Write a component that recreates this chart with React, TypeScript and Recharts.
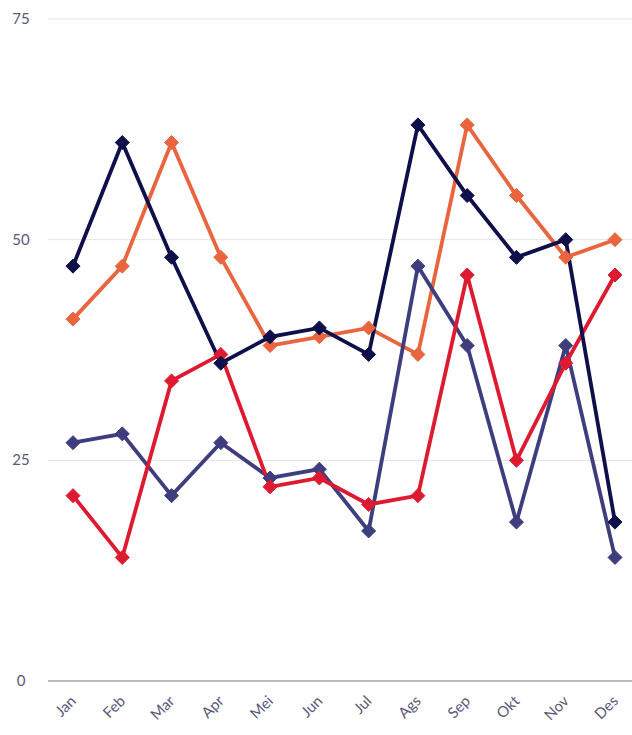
import React from "react";
import { LineChart, Line, XAxis, YAxis, CartesianGrid, ReferenceLine } from "recharts";

const months = ["Jan", "Feb", "Mar", "Apr", "Mei", "Jun", "Jul", "Ags", "Sep", "Okt", "Nov", "Des"];
const navyValues = [47, 61, 48, 36, 39, 40, 37, 63, 55, 48, 50, 18];
const orangeValues = [41, 47, 61, 48, 38, 39, 40, 37, 63, 55, 48, 50];
const redValues = [21, 14, 34, 37, 22, 23, 20, 21, 46, 25, 36, 46];
const slateValues = [27, 28, 21, 27, 23, 24, 17, 47, 38, 18, 38, 14];
const yTicks = [0, 25, 50, 75];

const data = months.map((m, i) => ({
  month: m,
  navy: navyValues[i],
  orange: orangeValues[i],
  red: redValues[i],
  slate: slateValues[i],
}));

const Diamond = (props: any) => {
  const { cx, cy, color } = props;
  if (cx == null || cy == null) return null;
  const r = 7;
  return (
    <path
      d={`M${cx},${cy - r} L${cx + r},${cy} L${cx},${cy + r} L${cx - r},${cy} Z`}
      fill={color}
      stroke={color}
      strokeWidth={1}
    />
  );
};

const YTick = (props: any) => {
  const { y, payload } = props;
  return (
    <text x={21} y={y} dy={5} textAnchor="middle" fontSize={15} fill="#5a5a78" fontFamily="Lato, sans-serif">
      {payload.value}
    </text>
  );
};

const XTick = (props: any) => {
  const { x, y, payload } = props;
  return (
    <text
      x={x + 4}
      y={y + 13}
      textAnchor="end"
      fontSize={15}
      fill="#5a5a78"
      fontFamily="Lato, sans-serif"
      transform={`rotate(-45, ${x + 4}, ${y + 13})`}
    >
      {payload.value}
    </text>
  );
};

const series = [
  { key: "orange", color: "#e8653f" },
  { key: "slate", color: "#3e3d7e" },
  { key: "red", color: "#de1a30" },
  { key: "navy", color: "#0f0f4a" },
];

export default function App() {
  return (
    <div style={{ position: "fixed", left: 0, top: 0, width: 632, height: 735, overflow: "hidden", background: "#fff" }}>
      <LineChart width={640} height={735} data={data} margin={{ top: 19, right: 0, bottom: 0, left: 0 }}>
        <CartesianGrid vertical={false} stroke="#e4e4ea" />
        <XAxis
          dataKey="month"
          height={54}
          padding={{ left: 25, right: 25 }}
          axisLine={false}
          tickLine={false}
          tick={<XTick />}
          interval={0}
        />
        <YAxis
          width={48}
          domain={[0, 75]}
          ticks={yTicks}
          axisLine={false}
          tickLine={false}
          tick={<YTick />}
        />
        <ReferenceLine y={0} stroke="#a8a8b0" strokeWidth={1.5} />
        {series.map((s) => (
          <Line
            key={s.key}
            type="linear"
            dataKey={s.key}
            stroke={s.color}
            strokeWidth={3.8}
            dot={<Diamond color={s.color} />}
            activeDot={false}
            isAnimationActive={false}
          />
        ))}
      </LineChart>
    </div>
  );
}
